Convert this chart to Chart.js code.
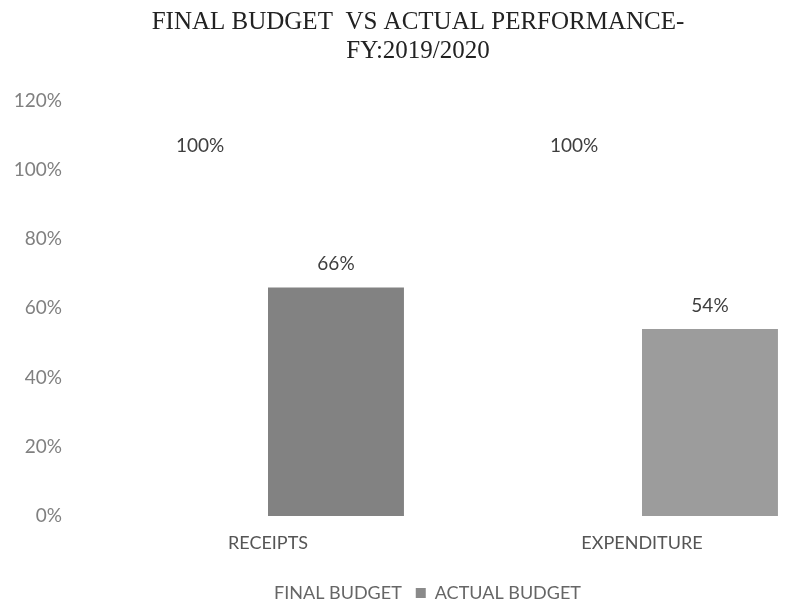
<!DOCTYPE html>
<html>
<head>
<meta charset="utf-8">
<script src="https://cdn.jsdelivr.net/npm/chart.js@4"></script>
<style>
  html, body { margin: 0; padding: 0; background: #fff; overflow: hidden; }
  #wrap { width: 844px; height: 612px; position: relative; }
</style>
</head>
<body>
<div id="wrap"><canvas id="c"></canvas></div>
<script>
const categories = ["RECEIPTS", "EXPENDITURE"];
const finalBudget = [100, 100];
const actualBudget = [66, 54];
const yTicks = [0, 20, 40, 60, 80, 100, 120];
const titleLines = ["FINAL BUDGET  VS ACTUAL PERFORMANCE-", "FY:2019/2020"];
const seriesNames = ["FINAL BUDGET", "ACTUAL BUDGET"];
const actualColors = ['#828282', '#9c9c9c'];

const valueLabels = {
  id: 'valueLabels',
  afterDatasetsDraw(chart) {
    const ctx = chart.ctx;
    ctx.save();
    ctx.font = '19px Lato';
    ctx.fillStyle = '#3e3e3e';
    ctx.textAlign = 'center';
    ctx.textBaseline = 'bottom';
    chart.data.datasets.forEach((ds, i) => {
      const meta = chart.getDatasetMeta(i);
      meta.data.forEach((el, j) => {
        ctx.fillText(ds.data[j] + '%', el.x, el.y - 14);
      });
    });
    ctx.restore();
  }
};

new Chart(document.getElementById('c'), {
  type: 'bar',
  data: {
    labels: categories,
    datasets: [
      { label: seriesNames[0], data: finalBudget, backgroundColor: '#ffffff', borderWidth: 0 },
      { label: seriesNames[1], data: actualBudget, backgroundColor: actualColors, borderWidth: 0 }
    ]
  },
  options: {
    responsive: true,
    maintainAspectRatio: false,
    animation: false,
    layout: { padding: { left: 7, right: 15, top: 0, bottom: 0 } },
    datasets: { bar: { categoryPercentage: 0.727, barPercentage: 1.0 } },
    scales: {
      x: {
        grid: { display: false, drawTicks: false },
        border: { display: false },
        ticks: { color: '#555', font: { family: 'Lato', size: 18 }, padding: 16 },
        afterFit(axis) { axis.height = 54; }
      },
      y: {
        min: 0, max: 120,
        afterBuildTicks(axis) { axis.ticks = yTicks.map(v => ({ value: v })); },
        grid: { display: false, drawTicks: false },
        border: { display: false },
        ticks: { color: '#808080', font: { family: 'Lato', size: 19 }, padding: 19,
                 callback: v => v + '%' },
        afterFit(axis) { axis.width = 74; }
      }
    },
    plugins: {
      title: {
        display: true,
        text: titleLines,
        color: '#222',
        font: { family: 'Liberation Serif', size: 25, weight: 'normal', lineHeight: 1.15 },
        padding: { top: 8, bottom: 35 }
      },
      legend: {
        position: 'bottom',
        labels: {
          color: '#666', font: { family: 'Lato', size: 18 }, boxWidth: 10, boxHeight: 10, padding: 14,
          generateLabels(chart) {
            const items = Chart.defaults.plugins.legend.labels.generateLabels(chart);
            items[0].fillStyle = '#ffffff';
            items[0].strokeStyle = '#ffffff';
            items[0].lineWidth = 0;
            items[1].fillStyle = '#8a8a8a';
            items[1].strokeStyle = '#8a8a8a';
            items[1].lineWidth = 0;
            return items;
          }
        }
      },
      tooltip: { enabled: false }
    }
  },
  plugins: [valueLabels]
});
</script>
</body>
</html>
